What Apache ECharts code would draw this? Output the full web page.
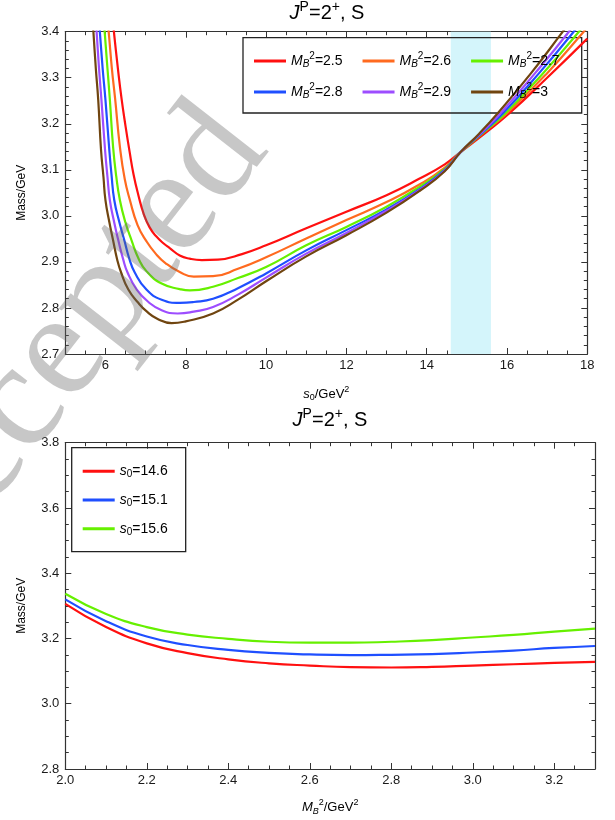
<!DOCTYPE html>
<html>
<head>
<meta charset="utf-8">
<title>JP=2+, S</title>
<script src="https://cdn.jsdelivr.net/npm/echarts@6/dist/echarts.min.js"></script>
<style>
  html, body { margin: 0; padding: 0; background: #fff; }
  #chart { width: 615px; height: 820px; }
</style>
</head>
<body>
<div id="chart"></div>
<script>
// ---- data ----
// top panel: mass vs s0 for several Borel parameters
const s0Ticks = [6, 8, 10, 12, 14, 16, 18];
const massTicksTop = [2.7, 2.8, 2.9, 3.0, 3.1, 3.2, 3.3, 3.4];
const s0Window = [14.6, 15.6];
const borelRow1 = ['2.5', '2.6', '2.7'];
const borelRow2 = ['2.8', '2.9', '3'];

const massM25 = [[6.10,3.49],[6.21,3.40],[6.31,3.32],[6.40,3.255],[6.50,3.195],[6.60,3.14],[6.70,3.09],
  [6.82,3.045],[6.95,3.005],[7.1,2.975],[7.27,2.955],[7.45,2.94],[7.6,2.930],[7.85,2.914],[8.1,2.907],
  [8.4,2.904],[8.8,2.905],[9.4,2.917],[10,2.936],[11,2.973],[12,3.009],[13,3.045],[13.8,3.080],
  [14.45,3.112],[14.85,3.139],[15.4,3.176],[16.06,3.223],[17.0,3.30],[18,3.385]];
const massM26 = [[5.98,3.49],[6.08,3.40],[6.16,3.32],[6.24,3.255],[6.36,3.15],[6.48,3.08],[6.61,3.034],
  [6.8,2.98],[7.02,2.945],[7.25,2.918],[7.5,2.897],[7.85,2.878],[8.2,2.868],[8.68,2.869],[9.3,2.885],
  [10,2.910],[11,2.951],[12,2.991],[13,3.030],[13.82,3.068],[14.45,3.105],[14.85,3.139],[15.4,3.18],
  [16.0,3.223],[17.0,3.31],[17.91,3.40],[18,3.41]];
const massM27 = [[5.90,3.49],[5.98,3.40],[6.05,3.32],[6.11,3.252],[6.19,3.15],[6.27,3.085],[6.36,3.034],
  [6.5,2.985],[6.65,2.947],[6.82,2.908],[7.02,2.880],[7.4,2.853],[7.85,2.841],[8.1,2.838],[8.68,2.846],
  [9.3,2.865],[10,2.889],[11,2.936],[12,2.976],[13,3.020],[13.82,3.063],[14.45,3.102],[14.85,3.139],
  [15.4,3.18],[15.96,3.223],[16.9,3.31],[17.79,3.40],[18,3.425]];
const massM28 = [[5.78,3.48],[5.86,3.40],[5.93,3.32],[6.0,3.252],[6.09,3.15],[6.15,3.09],[6.22,3.034],
  [6.35,2.985],[6.47,2.947],[6.59,2.908],[6.73,2.877],[7.02,2.840],[7.4,2.818],[7.85,2.811],[8.2,2.813],
  [8.68,2.820],[9.3,2.843],[10,2.875],[11,2.925],[12,2.969],[13,3.014],[13.82,3.058],[14.45,3.10],
  [14.85,3.139],[15.4,3.182],[15.9,3.223],[16.8,3.31],[17.66,3.40],[18,3.44]];
const massM29 = [[5.71,3.49],[5.78,3.40],[5.84,3.32],[5.90,3.252],[5.99,3.143],[6.05,3.085],[6.11,3.034],
  [6.22,2.985],[6.32,2.947],[6.44,2.906],[6.55,2.877],[6.78,2.840],[7.07,2.813],[7.4,2.795],[7.8,2.788],
  [8.2,2.792],[8.68,2.802],[9.3,2.829],[10,2.866],[11,2.918],[12,2.963],[13,3.011],[13.82,3.056],
  [14.45,3.098],[14.85,3.139],[15.4,3.184],[15.84,3.223],[16.7,3.31],[17.54,3.40],[18,3.455]];
const massM30 = [[5.63,3.49],[5.70,3.40],[5.76,3.32],[5.82,3.252],[5.89,3.143],[5.95,3.085],[6.0,3.034],
  [6.1,2.985],[6.19,2.947],[6.29,2.906],[6.39,2.877],[6.57,2.840],[6.80,2.813],[7.02,2.793],[7.3,2.776],
  [7.65,2.767],[8.0,2.771],[8.68,2.788],[9.3,2.818],[10,2.858],[11,2.912],[12,2.958],[13,3.007],
  [13.82,3.054],[14.45,3.097],[14.85,3.139],[15.3,3.178],[15.77,3.223],[16.6,3.31],[17.39,3.40],[18,3.47]];

// bottom panel: mass vs Borel parameter for three thresholds
const borelTicks = [2.0, 2.2, 2.4, 2.6, 2.8, 3.0, 3.2];
const massTicksBottom = [2.8, 3.0, 3.2, 3.4, 3.6, 3.8];
const thresholdNames = ['14.6', '15.1', '15.6'];
const borelGrid = [2.0, 2.1, 2.2, 2.3, 2.4, 2.5, 2.6, 2.7, 2.8, 2.9, 3.0, 3.1, 3.2, 3.3];
const massS146 = [3.306, 3.235, 3.185, 3.155, 3.136, 3.124, 3.117, 3.112, 3.111, 3.113, 3.117, 3.121, 3.125, 3.128];
const massS151 = [3.320, 3.253, 3.206, 3.180, 3.165, 3.156, 3.151, 3.149, 3.150, 3.152, 3.157, 3.163, 3.171, 3.177];
const massS156 = [3.337, 3.275, 3.235, 3.212, 3.199, 3.190, 3.187, 3.187, 3.190, 3.195, 3.203, 3.211, 3.221, 3.230];

// ---- look ----
const FONT = 'Liberation Sans';
const INK = '#333';
const topColors = ['#ff1010', '#ff6a1f', '#66f000', '#1f4fff', '#9d4dff', '#704510'];
const bottomColors = ['#ff1010', '#1f4fff', '#66f000'];

function richSet(size, small) {
  const f = { fontFamily: FONT, fontWeight: 'normal', color: '#000' };
  return {
    i: Object.assign({}, f, { fontSize: size, fontStyle: 'italic' }),
    t: Object.assign({}, f, { fontSize: size }),
    sub: Object.assign({}, f, { fontSize: small, fontStyle: 'italic', padding: [7, 0, 0, 0] }),
    sub0: Object.assign({}, f, { fontSize: small, padding: [7, 0, 0, 0] }),
    sup: Object.assign({}, f, { fontSize: small, padding: [0, 0, 10, 0] })
  };
}

// minor tick positions between the major ones
function minorTicks(lo, hi, step, majorStep) {
  const out = [];
  const n = Math.round((hi - lo) / step);
  for (let k = 1; k < n; k++) {
    const v = +(lo + k * step).toFixed(4);
    const r = v / majorStep;
    if (Math.abs(r - Math.round(r)) > 1e-6) out.push(v);
  }
  return out;
}

// four axes per direction: labelled, minor, mirrored, mirrored minor
function frameAxes(dir, grid, min, max, majors, minors, fmt, extra) {
  const sides = dir === 'x' ? ['bottom', 'top'] : ['left', 'right'];
  const base = {
    type: 'value', gridIndex: grid, min: min, max: max,
    splitLine: { show: false },
    axisLine: { show: true, onZero: false, lineStyle: { color: INK, width: 1.2 } }
  };
  const tick = (vals, len) => ({ show: true, inside: true, length: len, customValues: vals, lineStyle: { color: INK, width: 1 } });
  return [
    Object.assign({}, base, extra, {
      position: sides[0],
      axisTick: tick(majors, 6),
      axisLabel: { customValues: majors, formatter: fmt, margin: dir === 'x' ? 5 : 6, fontFamily: FONT, fontSize: 13, color: '#1a1a1a' }
    }),
    Object.assign({}, base, { position: sides[0], axisLine: { show: false }, axisTick: tick(minors, 3.5), axisLabel: { show: false } }),
    Object.assign({}, base, { position: sides[1], axisTick: tick(majors, 6), axisLabel: { show: false } }),
    Object.assign({}, base, { position: sides[1], axisLine: { show: false }, axisTick: tick(minors, 3.5), axisLabel: { show: false } })
  ];
}

const oneDecimal = v => v.toFixed(1);
const massName = {
  name: 'Mass/GeV', nameLocation: 'middle', nameGap: 38, nameRotate: 90,
  nameTextStyle: { fontFamily: FONT, fontSize: 12, color: '#000' }
};

const xAxes = [].concat(
  frameAxes('x', 0, 5, 18, s0Ticks, minorTicks(5, 18, 0.5, 2), v => String(v), {
    name: '{i|s}{sub0|0}{t|/GeV}{sup|2}', nameLocation: 'middle', nameGap: 31,
    nameTextStyle: { rich: richSet(13, 9) }
  }),
  frameAxes('x', 1, 2.0, 3.3, borelTicks, minorTicks(2.0, 3.3, 0.05, 0.2), oneDecimal, {
    name: '{i|M}{sub|B}{sup|2}{t|/GeV}{sup|2}', nameLocation: 'middle', nameGap: 29,
    nameTextStyle: { rich: richSet(13, 9) }
  })
);
const yAxes = [].concat(
  frameAxes('y', 0, 2.7, 3.4, massTicksTop, minorTicks(2.7, 3.4, 0.02, 0.1), oneDecimal, massName),
  frameAxes('y', 1, 2.8, 3.8, massTicksBottom, minorTicks(2.8, 3.8, 0.05, 0.2), oneDecimal, massName)
);

const borelNames = borelRow1.concat(borelRow2);
const topCurves = [massM25, massM26, massM27, massM28, massM29, massM30];
const bottomCurves = [massS146, massS151, massS156];

const lineSeries = (name, data, color, axis) => ({
  name: name, type: 'line', data: data, xAxisIndex: axis, yAxisIndex: axis,
  showSymbol: false, symbol: 'none', smooth: 0.5,
  lineStyle: { color: color, width: 2.2 }, itemStyle: { color: color },
  z: 3, silent: true, animation: false
});

const series = [{
  type: 'line', data: [], xAxisIndex: 0, yAxisIndex: 0, z: 1, silent: true,
  markArea: {
    silent: true, itemStyle: { color: '#d4f5fb' },
    data: [[{ xAxis: s0Window[0] }, { xAxis: s0Window[1] }]]
  }
}];
borelNames.forEach((n, k) => series.push(lineSeries(n, topCurves[k], topColors[k], 0)));
thresholdNames.forEach((n, k) => series.push(lineSeries(n, borelGrid.map((x, j) => [x, bottomCurves[k][j]]), bottomColors[k], 4)));

const legendBase = {
  itemWidth: 32, itemHeight: 3, icon: 'rect', selectedMode: false,
  backgroundColor: 'transparent', textStyle: { rich: richSet(14, 10) }
};
const borelLabel = n => '{i|M}{sub|B}{sup|2}{t|=' + n + '}';

const titleText = '{i|J}{sup|P}{t|=2}{sup|+}{t|, S}';
const titleRich = {
  i: { fontFamily: FONT, fontSize: 20, fontStyle: 'italic', fontWeight: 'normal', color: '#000' },
  t: { fontFamily: FONT, fontSize: 20, fontWeight: 'normal', color: '#000' },
  sup: { fontFamily: FONT, fontSize: 14, fontWeight: 'normal', color: '#000', padding: [0, 0, 12, 0] }
};

const chart = echarts.init(document.getElementById('chart'), null, { renderer: 'canvas' });
chart.setOption({
  animation: false,
  backgroundColor: '#fff',
  title: [
    { text: titleText, left: 327, top: 0, padding: 0, textAlign: 'center', textStyle: { fontWeight: 'normal', rich: titleRich } },
    { text: titleText, left: 330, top: 407, padding: 0, textAlign: 'center', textStyle: { fontWeight: 'normal', rich: titleRich } }
  ],
  grid: [
    { left: 65.3, top: 31.7, width: 522, height: 322.3, containLabel: false },
    { left: 65.3, top: 442.7, width: 529.7, height: 326.3, containLabel: false }
  ],
  xAxis: xAxes,
  yAxis: yAxes,
  legend: [
    Object.assign({}, legendBase, {
      data: borelRow1, left: 254, top: 51, itemGap: 20, padding: 0, formatter: borelLabel
    }),
    Object.assign({}, legendBase, {
      data: borelRow2, left: 254, top: 82, itemGap: 20, padding: 0, formatter: borelLabel
    }),
    Object.assign({}, legendBase, {
      data: thresholdNames, left: 71.7, top: 447.7, orient: 'vertical', itemGap: 13.3,
      padding: [16.5, 18, 14.3, 11], borderColor: '#222', borderWidth: 1.3,
      formatter: n => '{i|s}{sub0|0}{t|=' + n + '}'
    })
  ],
  graphic: [
    {
      type: 'rect', shape: { x: 243, y: 37.7, width: 338.7, height: 75.3 }, z: 2, silent: true,
      style: { fill: 'none', stroke: '#222', lineWidth: 1.3 }
    },
    {
      type: 'text', x: 298, y: 172, rotation: 52 * Math.PI / 180, z: 100, silent: true,
      style: {
        text: 'Accepted', font: '150px "Liberation Serif"', fill: 'rgba(100,100,100,0.36)',
        textAlign: 'right', textVerticalAlign: 'bottom', align: 'right', verticalAlign: 'bottom'
      }
    }
  ],
  series: series
});
</script>
</body>
</html>
